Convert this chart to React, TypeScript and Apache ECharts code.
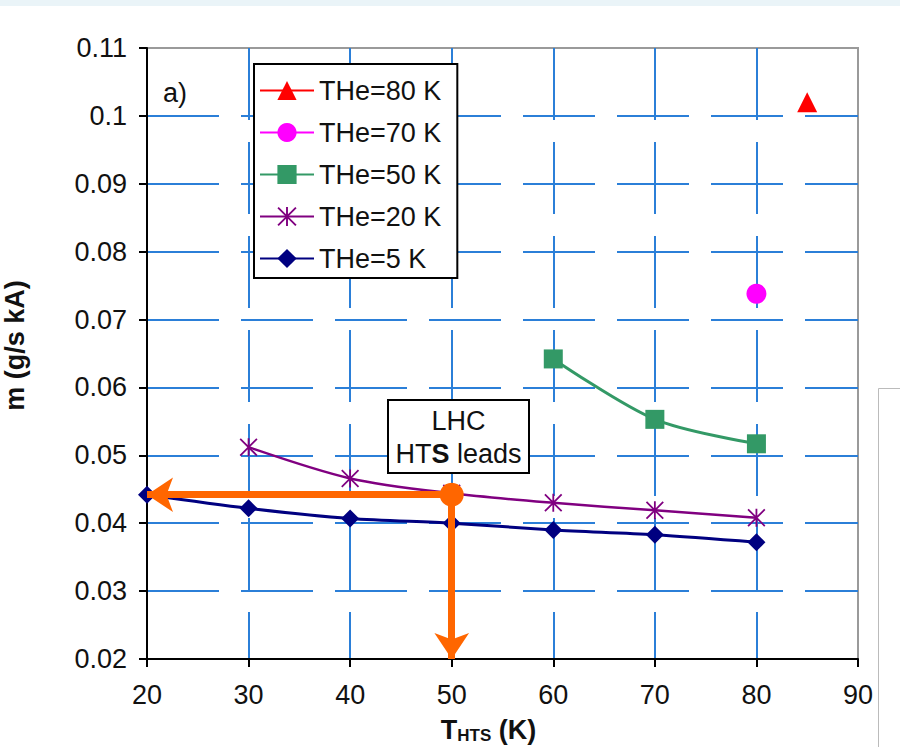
import React, { useEffect, useRef } from "react";
import * as echarts from "echarts";

const FONT = "'Liberation Sans', Arial, sans-serif";
const GRID_BLUE = "#2B7FD8";

const xMin = 20;
const xMax = 90;
const xStep = 10;
const yMin = 0.02;
const yMax = 0.11;
const yStep = 0.01;

const seriesNames = ["THe=80 K", "THe=70 K", "THe=50 K", "THe=20 K", "THe=5 K"];
const seriesColors = ["#FF0000", "#FF00FF", "#339966", "#800080", "#000080"];

const he80: number[][] = [[85, 0.102]];
const he70: number[][] = [[80, 0.0738]];
const he50: number[][] = [
  [60, 0.0642],
  [70, 0.0553],
  [80, 0.0517],
];
const he20: number[][] = [
  [30, 0.0512],
  [40, 0.0466],
  [50, 0.0444],
  [60, 0.043],
  [70, 0.0419],
  [80, 0.0408],
];
const he5: number[][] = [
  [20, 0.0442],
  [30, 0.0422],
  [40, 0.0407],
  [50, 0.04],
  [60, 0.039],
  [70, 0.0383],
  [80, 0.0372],
];
const lhcPoint: number[] = [50, 0.0442];

const ASTERISK =
  "path://M9,0L11,0L11,20L9,20Z M0,1.4L1.4,0L20,18.6L18.6,20Z M18.6,0L20,1.4L1.4,20L0,18.6Z";

export default function App() {
  const ref = useRef<HTMLDivElement>(null);

  useEffect(() => {
    if (!ref.current) return;
    const chart = echarts.init(ref.current, null, { renderer: "svg" });

    const mkSeries = (
      idx: number,
      data: number[][],
      symbol: string,
      size: number,
      width: number,
      smooth: number | boolean
    ) => ({
      name: seriesNames[idx],
      type: "line",
      data,
      symbol,
      symbolSize: size,
      smooth,
      color: seriesColors[idx],
      itemStyle: { color: seriesColors[idx] },
      lineStyle: { color: seriesColors[idx], width },
      z: 3,
    });

    const option: any = {
      animation: false,
      textStyle: { fontFamily: FONT },
      grid: {
        left: 147,
        right: 42,
        top: 48,
        bottom: 88,
        containLabel: false,
        outerBoundsMode: "none",
        show: true,
        borderColor: "#9a9a9a",
        borderWidth: 2,
        backgroundColor: "transparent",
      },
      xAxis: {
        type: "value",
        min: xMin,
        max: xMax,
        interval: xStep,
        axisLine: { show: true, onZero: false, lineStyle: { color: "#000", width: 2 } },
        axisTick: { show: true, inside: false, length: 8, lineStyle: { color: "#000", width: 2 } },
        axisLabel: { margin: 22, fontSize: 27, color: "#111", fontFamily: FONT },
        splitLine: {
          show: true,
          showMinLine: false,
          showMaxLine: false,
          lineStyle: { color: GRID_BLUE, width: 2, type: [72, 22] },
        },
        name: "{t|T}{s|HTS}{t| (K)}",
        nameLocation: "middle",
        nameGap: 56,
        nameTextStyle: {
          padding: [0, 28, 0, 0],
          rich: {
            t: { fontSize: 27, fontWeight: "bold", color: "#111", fontFamily: FONT },
            s: {
              fontSize: 17,
              fontWeight: "bold",
              color: "#111",
              fontFamily: FONT,
              padding: [12, 0, 0, 0],
            },
          },
        },
      },
      yAxis: {
        type: "value",
        min: yMin,
        max: yMax,
        interval: yStep,
        axisLine: { show: true, onZero: false, lineStyle: { color: "#000", width: 2 } },
        axisTick: { show: true, inside: false, length: 8, lineStyle: { color: "#000", width: 2 } },
        axisLabel: {
          margin: 20,
          fontSize: 27,
          color: "#111",
          fontFamily: FONT,
          formatter: (v: number) => String(Math.round(v * 100) / 100),
        },
        splitLine: {
          show: true,
          showMinLine: false,
          showMaxLine: false,
          lineStyle: { color: GRID_BLUE, width: 2, type: [72, 22] },
        },
        name: "m (g/s kA)",
        nameLocation: "middle",
        nameGap: 119,
        nameTextStyle: {
          fontSize: 27,
          fontWeight: "bold",
          color: "#111",
          fontFamily: FONT,
          padding: [0, 0, 0, 16],
        },
      },
      legend: {
        data: seriesNames,
        orient: "vertical",
        left: 254,
        top: 64,
        padding: [13, 16, 6, 5],
        itemWidth: 54,
        itemHeight: 24,
        itemGap: 15,
        backgroundColor: "#fff",
        borderColor: "#000",
        borderWidth: 2,
        borderRadius: 0,
        selectedMode: false,
        textStyle: { fontSize: 27, color: "#111", lineHeight: 24, fontFamily: FONT },
        z: 6,
      },
      series: [
        mkSeries(0, he80, "triangle", 20, 2, false),
        mkSeries(1, he70, "circle", 20, 2, false),
        mkSeries(2, he50, "rect", 19, 3, 0.3),
        mkSeries(3, he20, ASTERISK, 18, 2.5, 0.3),
        mkSeries(4, he5, "diamond", 18, 3, 0.3),
        {
          name: "lhc",
          type: "line",
          data: [lhcPoint],
          symbol: "circle",
          symbolSize: 24,
          itemStyle: { color: "#FF6600" },
          z: 5,
          markLine: {
            silent: true,
            symbol: ["none", "arrow"],
            symbolSize: 26,
            label: { show: false },
            lineStyle: { color: "#FF6600", width: 7, type: "solid", opacity: 1 },
            emphasis: { disabled: true },
            data: [
              [{ coord: lhcPoint }, { coord: [xMin, lhcPoint[1]] }],
              [{ coord: lhcPoint }, { coord: [lhcPoint[0], yMin] }],
            ],
          },
        },
      ],
      graphic: [
        {
          type: "rect",
          shape: { x: 0, y: 0, width: 900, height: 6 },
          style: { fill: "#EAF4F8" },
          z: 0,
        },
        {
          type: "rect",
          shape: { x: 878.5, y: 388.5, width: 40, height: 400 },
          style: { fill: "#fff", stroke: "#bbbbbb", lineWidth: 1 },
          z: 0,
        },
        {
          type: "text",
          x: 163,
          y: 93,
          style: {
            text: "a)",
            fontSize: 27,
            fontFamily: FONT,
            fill: "#111",
            verticalAlign: "middle",
          },
          z: 10,
        },
        {
          type: "rect",
          shape: { x: 388, y: 400, width: 141, height: 73 },
          style: { fill: "#fff", stroke: "#000", lineWidth: 2 },
          z: 10,
        },
        {
          type: "text",
          x: 458.5,
          y: 437,
          style: {
            text: "{n|LHC}\n{n|HT}{b|S}{n| leads}",
            align: "center",
            verticalAlign: "middle",
            rich: {
              n: { fontSize: 27, fontFamily: FONT, fill: "#111", lineHeight: 33 },
              b: { fontSize: 27, fontFamily: FONT, fill: "#111", fontWeight: "bold", lineHeight: 33 },
            },
          },
          z: 11,
        },
      ],
    };

    chart.setOption(option);
    return () => chart.dispose();
  }, []);

  return (
    <div
      ref={ref}
      style={{ position: "absolute", left: 0, top: 0, width: 900, height: 747, background: "#fff" }}
    />
  );
}
